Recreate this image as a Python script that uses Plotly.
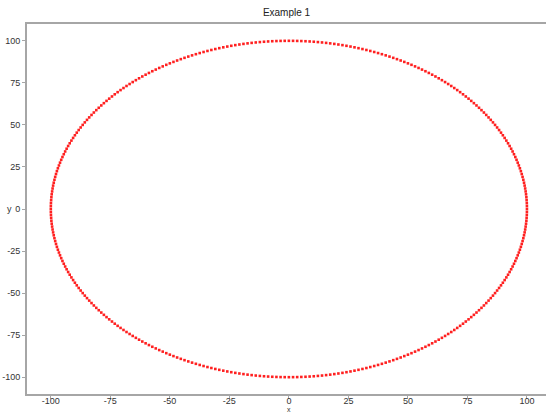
import plotly.graph_objects as go

# Quarter-circle table (degrees 0..90, radius 100): x = cos, y = sin
QUARTER_COS = [
    100.00, 99.98, 99.94, 99.86, 99.76, 99.62, 99.45, 99.25, 99.03, 98.77,
    98.48, 98.16, 97.81, 97.44, 97.03, 96.59, 96.13, 95.63, 95.11, 94.55,
    93.97, 93.36, 92.72, 92.05, 91.35, 90.63, 89.88, 89.10, 88.29, 87.46,
    86.60, 85.72, 84.80, 83.87, 82.90, 81.92, 80.90, 79.86, 78.80, 77.71,
    76.60, 75.47, 74.31, 73.14, 71.93, 70.71, 69.47, 68.20, 66.91, 65.61,
    64.28, 62.93, 61.57, 60.18, 58.78, 57.36, 55.92, 54.46, 52.99, 51.50,
    50.00, 48.48, 46.95, 45.40, 43.84, 42.26, 40.67, 39.07, 37.46, 35.84,
    34.20, 32.56, 30.90, 29.24, 27.56, 25.88, 24.19, 22.50, 20.79, 19.08,
    17.36, 15.64, 13.92, 12.19, 10.45, 8.72, 6.98, 5.23, 3.49, 1.75, 0.00,
]
X_TICKS = [-100, -75, -50, -25, 0, 25, 50, 75, 100]
Y_TICKS = [-100, -75, -50, -25, 0, 25, 50, 75, 100]

# Build the full circle from the quarter table by 90-degree rotations
qc = QUARTER_COS[:90]
qs = QUARTER_COS[90:0:-1]
xs, ys = [], []
xs += qc;                 ys += qs
xs += [-s for s in qs];   ys += qc
xs += [-c for c in qc];   ys += [-s for s in qs]
xs += qs;                 ys += [-c for c in qc]

FONT = "Liberation Sans, Arial"
PLOT_W, PLOT_H = 546 - 27, 414 - 24 - 20

fig = go.Figure(go.Scatter(
    x=xs, y=ys, mode="markers",
    marker=dict(color="#ff2020", size=2.6, symbol="square", line=dict(width=0)),
    showlegend=False,
))

axis_common = dict(
    showgrid=False, zeroline=False, automargin=False,
    showline=True, linecolor="#a6a6a6", linewidth=2, mirror=True,
    ticks="outside", ticklen=3, tickcolor="#a6a6a6", tickwidth=1,
    tickfont=dict(family=FONT, size=9, color="#333333"),
)

fig.update_layout(
    width=546, height=414,
    margin=dict(l=27, r=0, t=24, b=20),
    paper_bgcolor="white", plot_bgcolor="white",
    title=dict(text="Example 1", x=0.5, xref="paper", xanchor="center",
               y=1, yref="container", yanchor="top", pad=dict(t=9),
               font=dict(family=FONT, size=10, color="#222222")),
    xaxis=dict(range=[-110, 108], tickvals=X_TICKS, ticklabelstandoff=-6,
               ticktext=[str(v) for v in X_TICKS], **axis_common),
    yaxis=dict(range=[-110, 110], tickvals=Y_TICKS,
               ticktext=[str(v) for v in Y_TICKS], **axis_common),
    annotations=[
        dict(text="y", xref="paper", x=-18 / PLOT_W, xanchor="center",
             yref="y", y=0, yanchor="middle", showarrow=False,
             font=dict(family=FONT, size=9, color="#333333")),
        dict(text="x", xref="x", x=0, xanchor="center",
             yref="paper", y=-(414 - 394) / PLOT_H, yanchor="bottom",
             borderpad=0, showarrow=False,
             font=dict(family=FONT, size=7, color="#333333")),
    ],
)

fig.write_html("out.html")
